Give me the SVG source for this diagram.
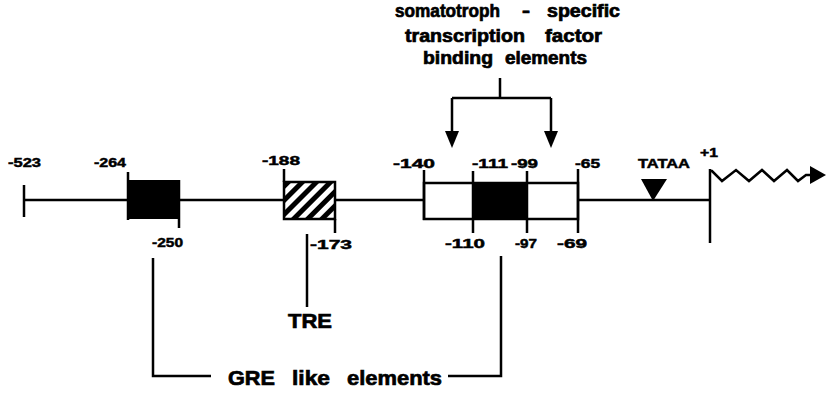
<svg xmlns="http://www.w3.org/2000/svg" width="827" height="395" viewBox="0 0 827 395">
<defs>
<style>
.ln{stroke:#000;stroke-width:2.5;fill:none}
.t{font-family:"Liberation Sans",Arial,sans-serif;font-weight:bold;fill:#000;stroke:#000;stroke-width:0.5}
.n{font-size:13.5px}
.big{font-size:21px;stroke-width:0.7}
.ttl{font-size:18px;stroke-width:0.7}
</style>
<pattern id="hatch" width="10" height="10" patternUnits="userSpaceOnUse" patternTransform="rotate(45)">
<rect width="10" height="10" fill="#fff"/>
<rect width="5" height="10" fill="#000"/>
</pattern>
</defs>
<rect width="827" height="395" fill="#fff"/>

<g id="connectors">
<path class="ln" d="M24,200 H127 M179,200 H283 M335,200 H424 M578,200 H710"/>
<path class="ln" d="M24,185 V217"/>
<path class="ln" d="M500,78 V98 M452,98 H551 M452,98 V136 M551,98 V136"/>
<polygon points="445,131 459,131 452,148" fill="#000"/>
<polygon points="544,131 558,131 551,148" fill="#000"/>
<path class="ln" d="M307,234 V307"/>
<path class="ln" d="M153,258 V376 H211 M448,376 H501 V256"/>
<path class="ln" d="M710,169 V243"/>
<path class="ln" stroke-linejoin="miter" d="M710,171 L712,171 L722,181 L736,170 L749,181 L762,170 L774,181 L787,170 L798,181 L806,175 H812"/>
<polygon points="810,166 826,175 810,184" fill="#000"/>
</g>

<g id="label-523">
<text class="t n" x="8" y="167" textLength="33" lengthAdjust="spacingAndGlyphs">-523</text>
</g>

<g id="box-264">
<rect x="127" y="180" width="52" height="39" fill="#000"/>
<path class="ln" d="M128,172 V220 M179,180 V228"/>
<text class="t n" x="94" y="167" textLength="32" lengthAdjust="spacingAndGlyphs">-264</text>
<text class="t n" x="152" y="247" textLength="31" lengthAdjust="spacingAndGlyphs">-250</text>
</g>

<g id="tre-box">
<rect x="284" y="182" width="51" height="37" fill="url(#hatch)" stroke="#000" stroke-width="2.5"/>
<path class="ln" d="M284,169 V182 M335,219 V233"/>
<text class="t n" x="262" y="165" textLength="38" lengthAdjust="spacingAndGlyphs">-188</text>
<text class="t n" x="310" y="249" textLength="42" lengthAdjust="spacingAndGlyphs">-173</text>
</g>

<g id="tre-label">
<text class="t big" x="288" y="328" textLength="44" lengthAdjust="spacingAndGlyphs">TRE</text>
</g>

<g id="pit-box">
<rect x="424" y="183" width="154" height="36" fill="#fff" stroke="#000" stroke-width="2.5"/>
<rect x="473" y="183" width="54" height="36" fill="#000"/>
<path class="ln" d="M424,170 V220 M473,171 V233 M527,171 V233 M578,169 V233"/>
<text class="t n" x="393" y="168" textLength="42" lengthAdjust="spacingAndGlyphs">-140</text>
<text class="t n" x="472" y="168" textLength="36" lengthAdjust="spacingAndGlyphs">-111</text>
<text class="t n" x="511" y="168" textLength="27" lengthAdjust="spacingAndGlyphs">-99</text>
<text class="t n" x="575" y="168" textLength="25" lengthAdjust="spacingAndGlyphs">-65</text>
<text class="t n" x="445" y="248" textLength="40" lengthAdjust="spacingAndGlyphs">-110</text>
<text class="t n" x="515" y="248" textLength="22" lengthAdjust="spacingAndGlyphs">-97</text>
<text class="t n" x="557" y="248" textLength="30" lengthAdjust="spacingAndGlyphs">-69</text>
</g>

<g id="tataa">
<polygon points="641,179 667,179 653,201" fill="#000"/>
<text class="t n" x="638" y="168" textLength="52" lengthAdjust="spacingAndGlyphs">TATAA</text>
</g>

<g id="start">
<text class="t n" x="700" y="157" textLength="18" lengthAdjust="spacingAndGlyphs">+1</text>
</g>

<g id="title">
<text class="t ttl" x="395" y="17" textLength="105" lengthAdjust="spacingAndGlyphs">somatotroph</text>
<text class="t ttl" x="522" y="17" textLength="8" lengthAdjust="spacingAndGlyphs">-</text>
<text class="t ttl" x="547" y="17" textLength="73" lengthAdjust="spacingAndGlyphs">specific</text>
<text class="t ttl" x="405" y="42" textLength="120" lengthAdjust="spacingAndGlyphs">transcription</text>
<text class="t ttl" x="545" y="42" textLength="57" lengthAdjust="spacingAndGlyphs">factor</text>
<text class="t ttl" x="423" y="64" textLength="70" lengthAdjust="spacingAndGlyphs">binding</text>
<text class="t ttl" x="505" y="64" textLength="82" lengthAdjust="spacingAndGlyphs">elements</text>
</g>

<g id="gre-label">
<text class="t big" x="228" y="385" textLength="47" lengthAdjust="spacingAndGlyphs">GRE</text>
<text class="t big" x="292" y="385" textLength="38" lengthAdjust="spacingAndGlyphs">like</text>
<text class="t big" x="347" y="385" textLength="95" lengthAdjust="spacingAndGlyphs">elements</text>
</g>
</svg>
